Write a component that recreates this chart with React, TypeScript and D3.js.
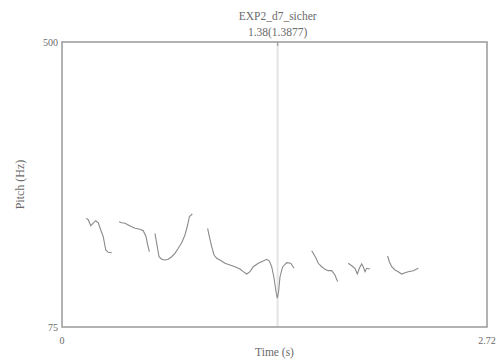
import React from "react";
import * as d3 from "d3";

const title = "EXP2_d7_sicher";
const cursorLabel = "1.38(1.3877)";
const cursorTime = 1.38;
const tMax = 2.72;
const fMin = 75;
const fMax = 500;
const xTickLabels = ["0", "2.72"];
const yTickLabels = ["75", "500"];

const seg1: [number, number][] = [
  [0.154, 237], [0.168, 235], [0.184, 226], [0.2, 230], [0.216, 233.5], [0.232, 230.5],
  [0.248, 219.6], [0.264, 209.7], [0.28, 189.8], [0.296, 186.4], [0.318, 185.8],
];
const seg2: [number, number][] = [
  [0.365, 232], [0.382, 230.5], [0.403, 229.6], [0.424, 227.1], [0.446, 224.6], [0.467, 222.2],
  [0.499, 220.7], [0.52, 218.6], [0.538, 209.7], [0.546, 199.8], [0.559, 187.3],
];
const seg3: [number, number][] = [
  [0.595, 214.7], [0.606, 199.8], [0.621, 179.8], [0.638, 176], [0.659, 174.9], [0.68, 176],
  [0.702, 179.8], [0.723, 184.9], [0.744, 192.4], [0.766, 200.7], [0.787, 212.2], [0.804, 227.1],
  [0.815, 239.5], [0.834, 243.5],
];
const seg4: [number, number][] = [
  [0.932, 222.2], [0.943, 209.7], [0.958, 194.7], [0.973, 182.4], [0.99, 177.4], [1.011, 174.9],
  [1.043, 170], [1.075, 167.5], [1.107, 164.9], [1.139, 161.5], [1.16, 157.5], [1.182, 154],
  [1.203, 157.5], [1.224, 164.9], [1.256, 170], [1.288, 173.4], [1.31, 176], [1.327, 173.4],
  [1.342, 164.9], [1.357, 148.1], [1.37, 127.2], [1.378, 118.2], [1.386, 127.2], [1.395, 149.6],
  [1.412, 164.5], [1.438, 170.9], [1.464, 170], [1.485, 162.5],
];
const seg5: [number, number][] = [
  [1.598, 188.8], [1.608, 184.9], [1.626, 177.4], [1.64, 170], [1.662, 164.9], [1.683, 161],
  [1.704, 159], [1.726, 159], [1.747, 152.5], [1.764, 142.6],
];
const seg6: [number, number][] = [
  [1.832, 170], [1.854, 166.4], [1.875, 162.5], [1.89, 154], [1.903, 162.5], [1.918, 169],
  [1.928, 164.9], [1.939, 157.5], [1.95, 162.5], [1.971, 161.5],
];
const seg7: [number, number][] = [
  [2.084, 180.9], [2.095, 172.4], [2.11, 164.9], [2.131, 160], [2.152, 157.5], [2.174, 154],
  [2.195, 156], [2.216, 157.5], [2.248, 159], [2.28, 162.5],
];
const segments = [seg1, seg2, seg3, seg4, seg5, seg6, seg7];

export default function App() {
  const W = 500, H = 361;
  const left = 62, right = 487, top = 42, bottom = 327;
  const x = d3.scaleLinear().domain([0, tMax]).range([left, right]);
  const y = d3.scaleLinear().domain([fMin, fMax]).range([bottom, top]);
  const line = d3.line<[number, number]>().x(d => x(d[0])).y(d => y(d[1])).curve(d3.curveLinear);
  const font = "'Liberation Serif', 'DejaVu Serif', serif";
  const cx = x(cursorTime);
  const txt = "#6a6a6a";
  return (
    <svg width={W} height={H} style={{ position: "absolute", left: 0, top: 0, background: "#fff" }} fontFamily={font}>
      <rect x={0} y={0} width={W} height={H} fill="#fff" />
      <line x1={cx} x2={cx} y1={top} y2={bottom} stroke="#e4e4e4" strokeWidth={2} />
      <line x1={cx} x2={cx} y1={top} y2={top + 4} stroke="#aaa" strokeWidth={1.5} />
      <rect x={left} y={top} width={right - left} height={bottom - top} fill="none" stroke="#999" strokeWidth={1.5} />
      {segments.map((s, i) => (
        <path key={i} d={line(s) || ""} fill="none" stroke="#8a8a8a" strokeWidth={1.1} />
      ))}
      <text x={cx} y={20} textAnchor="middle" fontSize={11.5} fill={txt}>{title}</text>
      <text x={cx} y={36} textAnchor="middle" fontSize={11.5} fill={txt}>{cursorLabel}</text>
      <text x={left - 4} y={y(fMax) + 3.5} textAnchor="end" fontSize={10} fill={txt}>{yTickLabels[1]}</text>
      <text x={left - 4} y={y(fMin) + 3.5} textAnchor="end" fontSize={10} fill={txt}>{yTickLabels[0]}</text>
      <text x={x(0)} y={bottom + 17} textAnchor="middle" fontSize={10} fill={txt}>{xTickLabels[0]}</text>
      <text x={x(tMax)} y={bottom + 17} textAnchor="middle" fontSize={10} fill={txt}>{xTickLabels[1]}</text>
      <text x={(left + right) / 2} y={356} textAnchor="middle" fontSize={11.5} fill={txt}>Time (s)</text>
      <text transform={`translate(24, ${(top + bottom) / 2}) rotate(-90)`} textAnchor="middle" fontSize={12} fill={txt}>Pitch (Hz)</text>
    </svg>
  );
}
